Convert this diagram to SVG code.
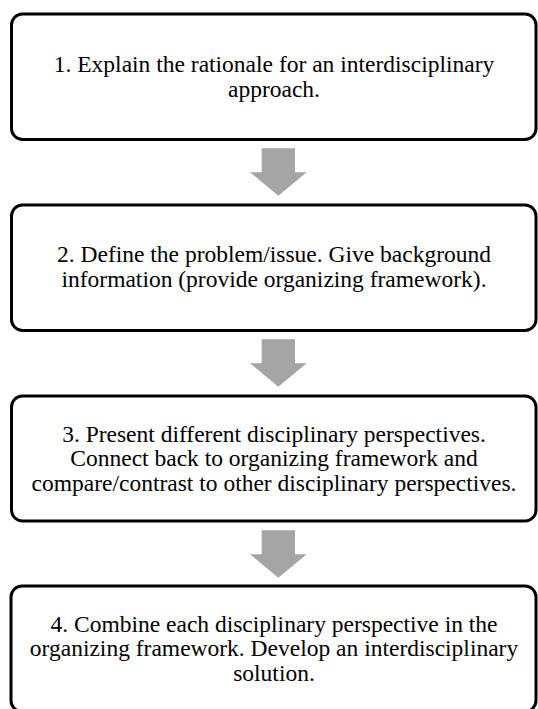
<svg xmlns="http://www.w3.org/2000/svg" width="538" height="709" viewBox="0 0 538 709">
<style>
.box{fill:#fff;stroke:#000;stroke-width:3}
.arr{fill:#a5a5a5;stroke:none}
.t{font-family:"Liberation Serif","Times New Roman",serif;font-size:23.5px;fill:#000;text-anchor:middle}
</style>
<rect width="538" height="709" fill="#fff"/>
<g id="connectors">
<polygon class="arr" points="261.7,148.3 295,148.3 295,172.3 306.7,172.3 278.3,195.7 250,172.3 261.7,172.3"/>
<polygon class="arr" points="261.7,339.3 295,339.3 295,363.3 306.7,363.3 278.3,386.7 250,363.3 261.7,363.3"/>
<polygon class="arr" points="261.7,530.3 295,530.3 295,554.3 306.7,554.3 278.3,577.7 250,554.3 261.7,554.3"/>
</g>
<g id="node1">
<rect class="box" x="11.5" y="14" width="524.5" height="125.5" rx="11"/>
<text class="t" x="274"><tspan x="274" y="72.3">1. Explain the rationale for an interdisciplinary</tspan><tspan x="274" y="96.8">approach.</tspan></text>
</g>
<g id="node2">
<rect class="box" x="11.5" y="205" width="524.5" height="125.5" rx="11"/>
<text class="t"><tspan x="274" y="261.7">2. Define the problem/issue. Give background</tspan><tspan x="274" y="286.5">information (provide organizing framework).</tspan></text>
</g>
<g id="node3">
<rect class="box" x="11.5" y="396" width="524.5" height="125" rx="11"/>
<text class="t"><tspan x="274" y="441.7">3. Present different disciplinary perspectives.</tspan><tspan x="274" y="466.3">Connect back to organizing framework and</tspan><tspan x="274" y="490.8">compare/contrast to other disciplinary perspectives.</tspan></text>
</g>
<g id="node4">
<rect class="box" x="11" y="586" width="525" height="125.5" rx="11"/>
<text class="t"><tspan x="274" y="631.7">4. Combine each disciplinary perspective in the</tspan><tspan x="274" y="656.2">organizing framework. Develop an interdisciplinary</tspan><tspan x="274" y="680.7">solution.</tspan></text>
</g>
</svg>
